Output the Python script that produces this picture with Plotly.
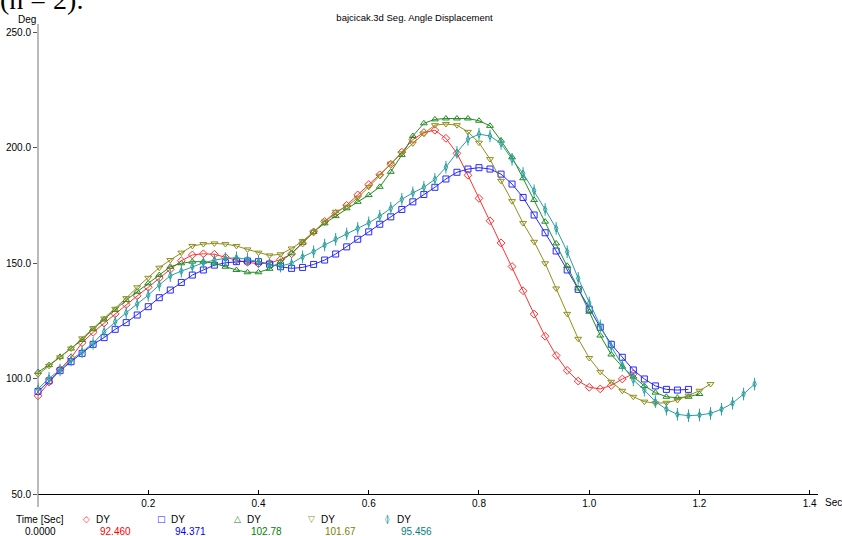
import plotly.graph_objects as go

DT = 0.02  # sampling interval (s)

red_dy = [92.5, 98.5, 104, 109, 115.5, 120, 124, 128, 132, 135.8, 139.5, 143.5, 147.3, 151, 153.5, 154,
          153.8, 152.5, 151.2, 150.3, 149.7, 150, 151.5, 154, 158.7, 163.5, 168, 171.5, 175, 179.5, 184,
          188.2, 192.8, 198, 203.5, 206.5, 207.5, 204, 197.5, 188, 178, 168.3, 158.7, 148.5, 138, 127.9,
          118.3, 110, 103.5, 98.9, 96.2, 95.5, 97, 99.8, 102]

blue_dy = [94.4, 99, 103.4, 107.3, 110.9, 114.8, 117.7, 121.3, 124.2, 127.5, 131.1, 135, 138.3, 141.6, 144.8,
           147, 149.1, 150.1, 150.6, 150.9, 150.6, 149.5, 148.4, 147.7, 148.1, 149.4, 151.3, 153.9, 157, 160.3,
           163.5, 166.8, 170, 173.2, 176.5, 179.7, 182.8, 186.4, 189.3, 190.7, 191.3, 190.7, 188.5, 184.2,
           178.4, 170.8, 163.1, 155.2, 147, 138.6, 130, 122.2, 114.8, 109.2, 103.7, 99.8, 96.8, 95.3, 95, 95.3]

green_dy = [102.8, 105.8, 109.4, 113, 116.7, 121.4, 125.6, 129.7, 134, 137.6, 141.2, 144.8, 148.4, 149.9, 150.6,
            150.6, 149.9, 148.4, 147, 146, 146, 147.5, 150.6, 154.2, 158.8, 163.5, 167.2, 170.3, 173.7, 176.5,
            179.4, 183, 189.5, 196.8, 205, 210.5, 212.2, 212.6, 212.6, 212.6, 211.6, 209.4, 203, 195.8, 186.7,
            177.3, 167.9, 158.5, 148.8, 139, 128.9, 118.6, 110.4, 105.1, 100.8, 96.8, 93.9, 92.1, 91.7, 92.1, 93.3]

olive_dy = [101.7, 105.5, 109.2, 113, 117.4, 121.8, 126, 130.2, 134.8, 139.5, 143.6, 148, 151.3, 154.5, 157.4,
            158.2, 158.5, 158.2, 157.4, 155.9, 154.5, 153.3, 153.8, 156.3, 159.5, 163.5, 168, 172.2, 174.4,
            178.3, 183, 187.8, 193.1, 197.5, 201.8, 206.1, 209.7, 210.2, 209.7, 206.8, 202.1, 195, 185.6, 176.8,
            167.3, 159.2, 149.9, 139, 128, 117.2, 108.9, 102.9, 98.6, 94.7, 92.1, 90, 89.3, 89.5, 90.7, 92.6,
            94.7, 97.6]

cyan_dy = [95.5, 100.1, 103.7, 108, 111.6, 115.2, 120.3, 124.6, 128.5, 132.3, 136.1, 140.5, 144.5, 146.5, 148.4,
           150.1, 151.3, 152, 152.3, 151.6, 150.5, 149.3, 148.7, 149.9, 152.7, 154.9, 157.8, 160.3, 162.6, 165,
           167.4, 170.3, 173.7, 177.6, 180.4, 182.8, 186.2, 191.5, 197.9, 203.6, 205.8, 205, 201.8, 194.9,
           188.8, 181.3, 173.2, 165, 154.9, 143.4, 132.7, 122.8, 113.8, 105.8, 99.4, 95, 90, 86.7, 84.5, 83.9,
           84.2, 84.9, 86.7, 89.3, 93.3, 97.6]

series_names = ["DY", "DY", "DY", "DY", "DY"]
cursor_values = ["92.460", "94.371", "102.78", "101.67", "95.456"]
x_tick_vals = [0.2, 0.4, 0.6, 0.8, 1.0, 1.2, 1.4]
x_tick_text = ["0.2", "0.4", "0.6", "0.8", "1.0", "1.2", "1.4"]
y_tick_vals = [50, 100, 150, 200, 250]
y_tick_text = ["50.0", "100.0", "150.0", "200.0", "250.0"]

line_colors = ["#ff3030", "#2828ff", "#228b22", "#8f8f1c", "#2a9f9f"]
text_colors = ["#ff0000", "#0000ff", "#008000", "#808000", "#008080"]
symbols = ["diamond-open", "square-open", "triangle-up-open", "triangle-down-open", "diamond-tall-open"]
legend_glyphs = ["◇", "□", "△", "▽", "◊"]

FONT = "Liberation Sans, Arial, sans-serif"

fig = go.Figure()
all_series = [red_dy, blue_dy, green_dy, olive_dy, cyan_dy]
for vals, col, sym, name in zip(all_series, line_colors, symbols, series_names):
    t = [round(i * DT, 2) for i in range(len(vals))]
    fig.add_trace(go.Scatter(
        x=t, y=vals, mode="lines+markers", name=name,
        line=dict(color=col, width=1),
        marker=dict(symbol=sym, size=6 if sym != "diamond-tall-open" else 5, color=col,
                    line=dict(color=col, width=1)),
        showlegend=False, cliponaxis=False,
    ))
    if sym == "diamond-tall-open":
        fig.add_trace(go.Scatter(
            x=t, y=vals, mode="markers",
            marker=dict(symbol="line-ns-open", size=9, color=col, line=dict(color=col, width=1)),
            showlegend=False, hoverinfo="skip",
        ))

L, R, T, B = 38, 24, 24, 42
W, H = 842, 536
pw, ph = W - L - R, H - T - B


def px_x(px):
    return (px - L) / pw


def px_y(py):
    return (H - B - py) / ph


annotations = []
# top-left cropped document text
annotations.append(dict(text="(n = 2).", xref="paper", yref="paper", x=px_x(-2), y=px_y(17),
                        xanchor="left", yanchor="bottom", showarrow=False,
                        font=dict(family="Liberation Serif, Times New Roman, serif", size=28, color="black")))
annotations.append(dict(text="Deg", xref="paper", yref="paper", x=px_x(27), y=px_y(20),
                        xanchor="center", yanchor="middle", showarrow=False,
                        font=dict(family=FONT, size=10, color="black")))
annotations.append(dict(text="Sec", xref="paper", yref="paper", x=px_x(823), y=px_y(502),
                        xanchor="left", yanchor="middle", showarrow=False,
                        font=dict(family=FONT, size=10, color="black")))
annotations.append(dict(text="Time [Sec]", xref="paper", yref="paper", x=px_x(40), y=px_y(519),
                        xanchor="center", yanchor="middle", showarrow=False,
                        font=dict(family=FONT, size=10, color="black")))
annotations.append(dict(text="0.0000", xref="paper", yref="paper", x=px_x(40), y=px_y(531),
                        xanchor="center", yanchor="middle", showarrow=False,
                        font=dict(family=FONT, size=10, color="black")))

glyph_x = [86, 161, 237, 311, 387]
for i in range(5):
    gx = glyph_x[i]
    annotations.append(dict(text=legend_glyphs[i], xref="paper", yref="paper", x=px_x(gx), y=px_y(519),
                            xanchor="center", yanchor="middle", showarrow=False,
                            font=dict(family="DejaVu Sans", size=9, color=line_colors[i])))
    if legend_glyphs[i] == "◊":
        annotations.append(dict(text="|", xref="paper", yref="paper", x=px_x(gx), y=px_y(519),
                                xanchor="center", yanchor="middle", showarrow=False,
                                font=dict(family="DejaVu Sans", size=9, color=line_colors[i])))
    annotations.append(dict(text=series_names[i], xref="paper", yref="paper", x=px_x(gx + 8), y=px_y(519),
                            xanchor="left", yanchor="middle", showarrow=False,
                            font=dict(family=FONT, size=10, color="black")))
    annotations.append(dict(text=cursor_values[i], xref="paper", yref="paper", x=px_x(gx + 47), y=px_y(531),
                            xanchor="right", yanchor="middle", showarrow=False,
                            font=dict(family=FONT, size=10, color=text_colors[i])))

fig.update_layout(
    width=W, height=H,
    margin=dict(l=L, r=R, t=T, b=B, pad=0),
    paper_bgcolor="white", plot_bgcolor="white",
    title=dict(text="bajcicak.3d Seg. Angle Displacement", x=px_x(422), xanchor="center",
               y=1 - 18 / H, yanchor="middle", font=dict(family=FONT, size=9.5, color="black")),
    font=dict(family=FONT, size=10, color="black"),
    xaxis=dict(range=[0, 1.415], tickvals=x_tick_vals, ticktext=x_tick_text, showgrid=False,
               zeroline=False, showline=True, linecolor="black", linewidth=1, automargin=False,
               ticks="inside", ticklen=4, tickcolor="black", tickfont=dict(size=10)),
    yaxis=dict(range=[50, 253.5], tickvals=y_tick_vals, ticktext=y_tick_text, showgrid=False,
               zeroline=False, showline=False, ticks="outside", ticklen=4, tickcolor="#555555",
               automargin=False, tickfont=dict(size=10)),
    shapes=[dict(type="line", xref="paper", yref="paper", x0=0, x1=0, y0=-13 / ph, y1=1,
                 line=dict(color="#777777", width=1))],
    annotations=annotations,
)

fig.write_html("out.html", config={"displayModeBar": False},
               post_script="document.body.style.margin='0';document.body.style.overflow='hidden';")
